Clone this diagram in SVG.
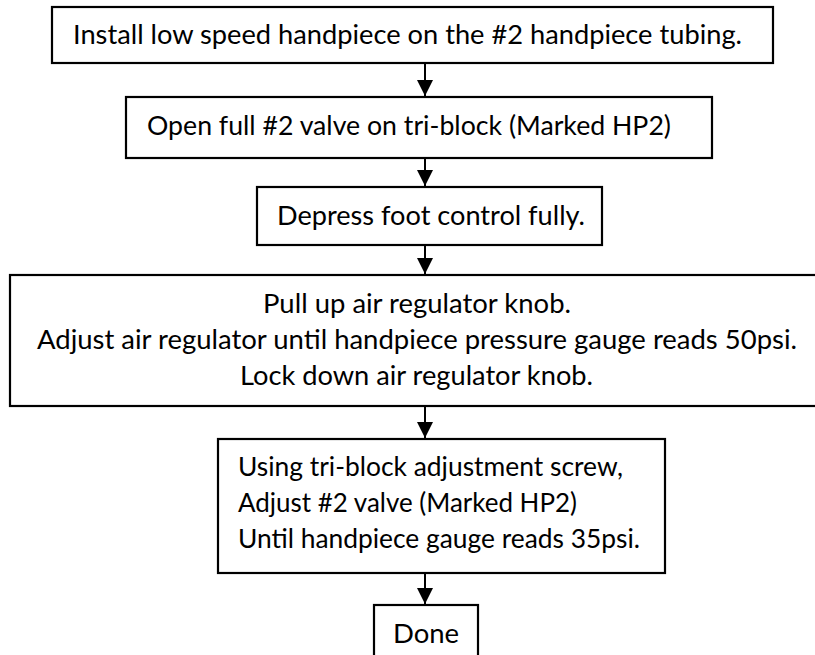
<svg xmlns="http://www.w3.org/2000/svg" width="815" height="655" viewBox="0 0 815 655">
<defs>
<style>
.box{fill:#fff;stroke:#000;stroke-width:2.2}
.t{font-family:"Lato","Open Sans","Liberation Sans",sans-serif;font-size:27.5px;fill:#000}
.c{text-anchor:middle}
.conn{stroke:#000;stroke-width:2;fill:none;marker-end:url(#ah)}
</style>
<marker id="ah" viewBox="0 0 10 10" refX="10" refY="5" markerWidth="8" markerHeight="8" markerUnits="strokeWidth" orient="auto">
<path d="M0,0 L10,5 L0,10 Z" fill="#000"/>
</marker>
</defs>
<rect width="815" height="655" fill="#fff"/>
<g id="n1">
<rect class="box" x="52" y="7" width="721" height="56"/>
<text class="t" x="73" y="44" textLength="669" lengthAdjust="spacingAndGlyphs">Install low speed handpiece on the #2 handpiece tubing.</text>
</g>
<g id="n2">
<rect class="box" x="126" y="97" width="586" height="61"/>
<text class="t" x="147" y="135" textLength="524" lengthAdjust="spacingAndGlyphs">Open full #2 valve on tri-block (Marked HP2)</text>
</g>
<g id="n3">
<rect class="box" x="257" y="187" width="345" height="58"/>
<text class="t" x="277" y="225" textLength="308" lengthAdjust="spacingAndGlyphs">Depress foot control fully.</text>
</g>
<g id="n4">
<rect class="box" x="10" y="275" width="820" height="131"/>
<text class="t" x="263" y="313" textLength="308" lengthAdjust="spacingAndGlyphs">Pull up air regulator knob.</text>
<text class="t" x="37" y="349" textLength="760" lengthAdjust="spacingAndGlyphs">Adjust air regulator until handpiece pressure gauge reads 50psi.</text>
<text class="t" x="240" y="385" textLength="353" lengthAdjust="spacingAndGlyphs">Lock down air regulator knob.</text>
</g>
<g id="n5">
<rect class="box" x="218" y="439" width="447" height="134"/>
<text class="t" x="238" y="476" textLength="385" lengthAdjust="spacingAndGlyphs">Using tri-block adjustment screw,</text>
<text class="t" x="238" y="512" textLength="339" lengthAdjust="spacingAndGlyphs">Adjust #2 valve (Marked HP2)</text>
<text class="t" x="238" y="548" textLength="402" lengthAdjust="spacingAndGlyphs">Until handpiece gauge reads 35psi.</text>
</g>
<g id="n6">
<rect class="box" x="374" y="605" width="104" height="60"/>
<text class="t c" x="426" y="643">Done</text>
</g>
<g id="connectors">
<line class="conn" x1="425" y1="64" x2="425" y2="96"/>
<line class="conn" x1="425" y1="159" x2="425" y2="186"/>
<line class="conn" x1="425" y1="246" x2="425" y2="274"/>
<line class="conn" x1="425" y1="407" x2="425" y2="438"/>
<line class="conn" x1="425" y1="574" x2="425" y2="604"/>
</g>
</svg>
